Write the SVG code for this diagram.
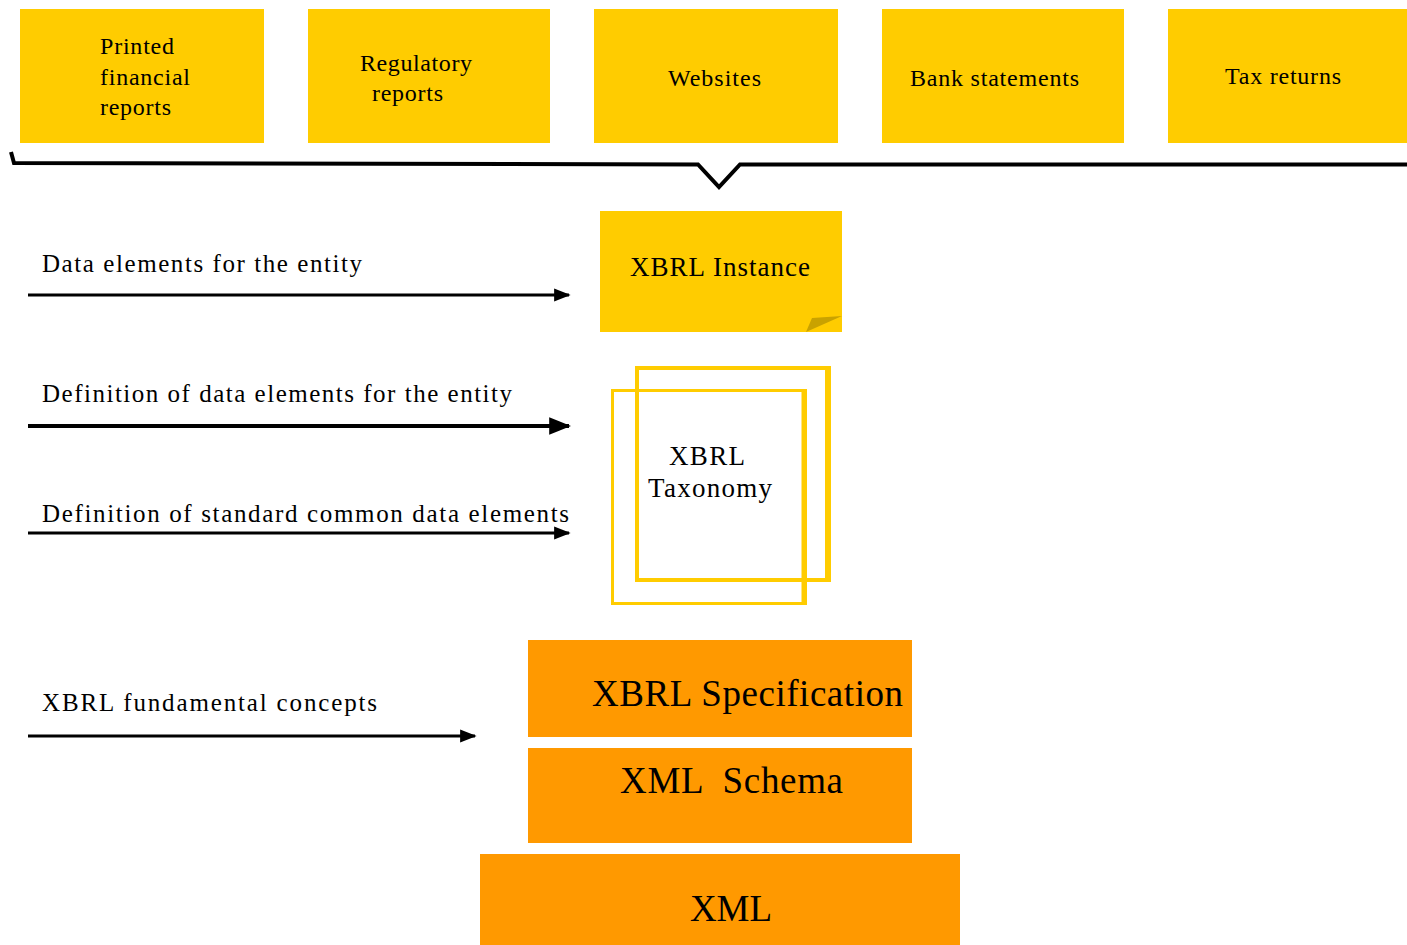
<svg xmlns="http://www.w3.org/2000/svg" width="1407" height="945" viewBox="0 0 1407 945">
<style>
text{font-family:"Liberation Serif","Times New Roman",serif;fill:#000}
.src{fill:#FFCC00}
.st{font-size:24px}
.lbl{font-size:25px}
.org{fill:#FF9900}
.big{font-size:37px}
.arr{stroke:#000;stroke-width:3;fill:none}
</style>
<defs>
<marker id="ah" viewBox="0 0 10 10" refX="9" refY="5" markerWidth="5.5" markerHeight="5.5" markerUnits="strokeWidth" orient="auto">
<path d="M0,1 L10,5 L0,9 Z" fill="#000"/>
</marker>
</defs>
<rect width="1407" height="945" fill="#fff"/>
<g id="printed"><rect class="src" x="20" y="9" width="244" height="134"/>
<text class="st" x="100" y="54" textLength="74" lengthAdjust="spacing">Printed</text><text class="st" x="100" y="85" textLength="90" lengthAdjust="spacing">financial</text><text class="st" x="100" y="115" textLength="71" lengthAdjust="spacing">reports</text></g>
<g id="regulatory"><rect class="src" x="308" y="9" width="242" height="134"/>
<text class="st" x="360" y="71" textLength="112" lengthAdjust="spacing">Regulatory</text><text class="st" x="372" y="101" textLength="71" lengthAdjust="spacing">reports</text></g>
<g id="websites"><rect class="src" x="594" y="9" width="244" height="134"/>
<text class="st" x="668" y="86" textLength="93" lengthAdjust="spacing">Websites</text></g>
<g id="bank"><rect class="src" x="882" y="9" width="242" height="134"/>
<text class="st" x="910" y="86" textLength="169" lengthAdjust="spacing">Bank statements</text></g>
<g id="tax"><rect class="src" x="1168" y="9" width="239" height="134"/>
<text class="st" x="1225" y="84" textLength="116" lengthAdjust="spacing">Tax returns</text></g>
<g id="brace"><path d="M11,152 L14,163 L698,164.5 L719,187 L740,164.5 L1407,164.5" fill="none" stroke="#000" stroke-width="4" stroke-linejoin="miter"/></g>
<g id="instance"><rect class="src" x="600" y="211" width="242" height="121"/>
<path d="M806,332 L812,318 L842,316 Z" fill="#C9A200"/>
<text x="630" y="276" style="font-size:27px" textLength="180" lengthAdjust="spacing">XBRL Instance</text></g>
<g id="taxonomy">
<rect x="637" y="368" width="192" height="212" fill="none" stroke="#FFCC00" stroke-width="4"/>
<line x1="828" y1="366" x2="828" y2="582" stroke="#FFCC00" stroke-width="6"/>
<rect x="612.5" y="390.5" width="193" height="213" fill="none" stroke="#FFCC00" stroke-width="3"/>
<line x1="804" y1="389" x2="804" y2="605" stroke="#FFCC00" stroke-width="5"/>
<text x="669" y="465" style="font-size:27px" textLength="76" lengthAdjust="spacing">XBRL</text>
<text x="648" y="497" style="font-size:27px" textLength="124" lengthAdjust="spacing">Taxonomy</text></g>
<g id="spec"><rect class="org" x="528" y="640" width="384" height="97"/><text class="big" x="592" y="706" textLength="311" lengthAdjust="spacing">XBRL Specification</text></g>
<g id="schema"><rect class="org" x="528" y="748" width="384" height="95"/><text class="big" x="620" y="793" xml:space="preserve" textLength="223" lengthAdjust="spacing">XML  Schema</text></g>
<g id="xml"><rect class="org" x="480" y="854" width="480" height="91"/><text class="big" x="690" y="921" textLength="82" lengthAdjust="spacing">XML</text></g>
<g id="labels">
<text class="lbl" x="42" y="272" textLength="320" lengthAdjust="spacing">Data elements for the entity</text>
<text class="lbl" x="42" y="402" textLength="470" lengthAdjust="spacing">Definition of data elements for the entity</text>
<text class="lbl" x="42" y="522" textLength="527" lengthAdjust="spacing">Definition of standard common data elements</text>
<text class="lbl" x="42" y="711" textLength="335" lengthAdjust="spacing">XBRL fundamental concepts</text>
</g>
<g id="connectors">
<line class="arr" x1="28" y1="295" x2="569" y2="295" marker-end="url(#ah)"/>
<line class="arr" x1="28" y1="426" x2="569" y2="426" marker-end="url(#ah)" style="stroke-width:4"/>
<line class="arr" x1="28" y1="533" x2="569" y2="533" marker-end="url(#ah)"/>
<line class="arr" x1="28" y1="736" x2="475" y2="736" marker-end="url(#ah)"/>
</g>
</svg>
